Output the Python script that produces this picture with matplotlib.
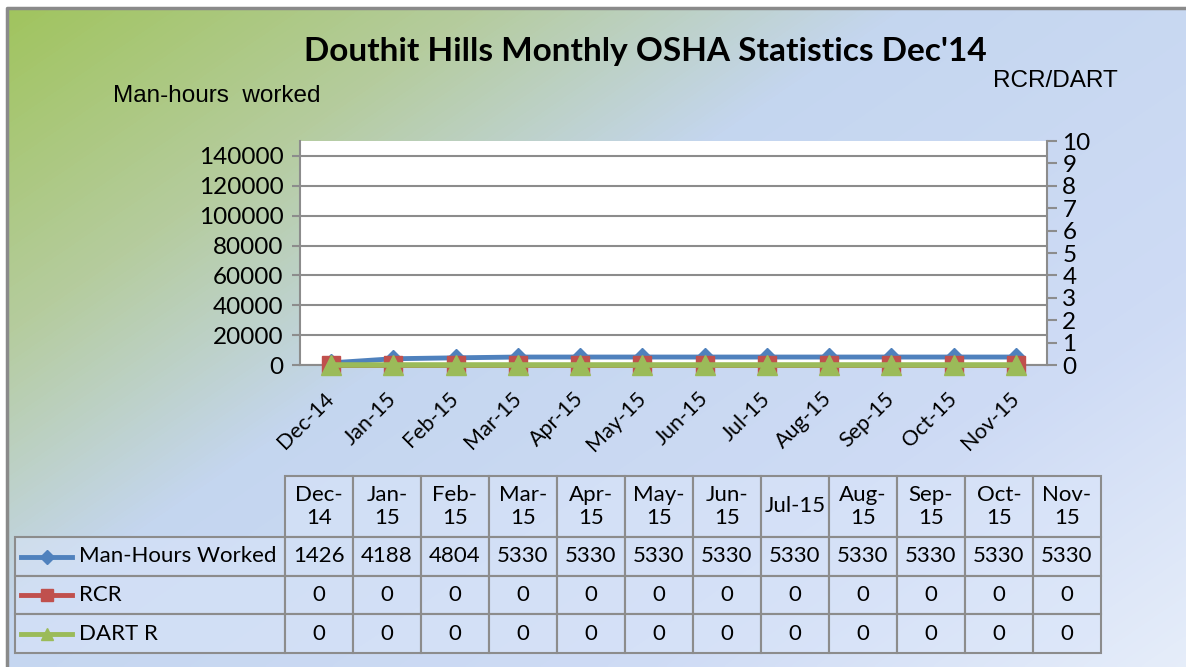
import matplotlib.pyplot as plt
import numpy as np
from matplotlib.patches import Rectangle
from matplotlib.lines import Line2D
from matplotlib.colors import LinearSegmentedColormap

# chart data
months = ["Dec-14", "Jan-15", "Feb-15", "Mar-15", "Apr-15", "May-15",
          "Jun-15", "Jul-15", "Aug-15", "Sep-15", "Oct-15", "Nov-15"]
header_labels = ["Dec-\n14", "Jan-\n15", "Feb-\n15", "Mar-\n15", "Apr-\n15", "May-\n15",
                 "Jun-\n15", "Jul-15", "Aug-\n15", "Sep-\n15", "Oct-\n15", "Nov-\n15"]
man_hours = [1426, 4188, 4804, 5330, 5330, 5330, 5330, 5330, 5330, 5330, 5330, 5330]
rcr = [0] * 12
dart = [0] * 12
series_names = ["Man-Hours Worked", "RCR", "DART R"]

left_ticks = np.arange(0, 140001, 20000)
right_ticks = np.arange(0, 11, 1)

BLUE = "#4F81BD"
RED = "#C0504D"
GREEN = "#9BBB59"
GRID = "#8C8C8C"
CAL = "Lato"
ARI = "Liberation Sans"

W, H = 1186, 667
fig = plt.figure(figsize=(W / 100, H / 100), dpi=100)
fig.patch.set_facecolor("white")

# gradient background in pixel coords
bg = fig.add_axes([0, 0, 1, 1], zorder=-10)
bg.set_xlim(0, W)
bg.set_ylim(H, 0)
bg.axis("off")
cmap = LinearSegmentedColormap.from_list("bg", [
    (0.0, (0.63, 0.77, 0.37)),
    (0.22, (0.71, 0.80, 0.62)),
    (0.42, (0.77, 0.84, 0.94)),
    (0.75, (0.81, 0.86, 0.96)),
    (1.0, (0.90, 0.93, 0.98)),
])
gx, gy = np.meshgrid(np.linspace(0, 1, 300), np.linspace(0, 1, 200))
bg.imshow((gx * 0.55 + gy * 0.45), cmap=cmap, extent=[7, W, H, 8], aspect="auto",
          interpolation="bilinear")
bg.plot([7, 7, W], [H, 8, 8], color="#8A8A8A", lw=2.5, solid_capstyle="butt")

# main plot
ax = fig.add_axes([300 / W, (H - 365) / H, 747 / W, 224 / H])
ax.set_facecolor("white")
x = np.arange(len(months))
ax.plot(x, man_hours, color=BLUE, lw=3.5, marker="D", ms=9, mec=BLUE, mfc=BLUE,
        clip_on=False, zorder=3)
ax.set_xlim(-0.5, len(months) - 0.5)
ax.set_ylim(0, 150000)
ax.set_yticks(left_ticks)
ax.set_yticklabels([str(v) for v in left_ticks], fontfamily=CAL, fontsize=17.5)
ax.set_xticks(x)
ax.set_xticklabels(months, rotation=45, ha="right", va="center", rotation_mode="anchor",
                   fontfamily=CAL, fontsize=15.5)
ax.tick_params(axis="x", length=0, pad=22)
ax.tick_params(axis="y", length=6, width=1.5, color=GRID, pad=6)
ax.grid(axis="y", color=GRID, lw=1.5)
ax.set_axisbelow(True)
for s in ["top", "right"]:
    ax.spines[s].set_visible(False)
for s in ["left", "bottom"]:
    ax.spines[s].set_color(GRID)
    ax.spines[s].set_linewidth(1.5)

ax2 = ax.twinx()
ax2.plot(x, rcr, color=RED, lw=3.5, marker="s", ms=12.5, mec=RED, mfc=RED,
         clip_on=False, zorder=4)
ax2.plot(x, dart, color=GREEN, lw=4, marker="^", ms=14, mec=GREEN, mfc=GREEN,
         clip_on=False, zorder=5)
ax2.set_ylim(0, 10)
ax2.set_yticks(right_ticks)
ax2.set_yticklabels([str(v) for v in right_ticks], fontfamily=CAL, fontsize=17.5)
ax2.tick_params(axis="y", length=7, width=1.5, color=GRID, pad=4)
for s in ["top", "left", "bottom"]:
    ax2.spines[s].set_visible(False)
ax2.spines["right"].set_color(GRID)
ax2.spines["right"].set_linewidth(1.5)

# titles
fig.text(645 / W, 1 - 52 / H, "Douthit Hills Monthly OSHA Statistics Dec'14",
         ha="center", va="center", fontfamily=CAL, fontweight="bold", fontsize=24)
fig.text(113 / W, 1 - 96 / H, "Man-hours  worked", ha="left", va="center",
         fontfamily=ARI, fontsize=17.5)
fig.text(1118 / W, 1 - 81 / H, "RCR/DART", ha="right", va="center",
         fontfamily=ARI, fontsize=17.5)

# data table drawn in pixel coords
tb = fig.add_axes([0, 0, 1, 1], zorder=5)
tb.set_xlim(0, W)
tb.set_ylim(H, 0)
tb.axis("off")
col_x0, col_w = 285, (1101 - 285) / 12
lab_x0 = 15
row_y = [476, 537, 576, 614, 653]
cell_fc = (0.86, 0.90, 0.98, 0.55)
ec = "#8C8C8C"
for j, lab in enumerate(header_labels):
    cx = col_x0 + j * col_w
    tb.add_patch(Rectangle((cx, row_y[0]), col_w, row_y[1] - row_y[0], fc=cell_fc,
                           ec=ec, lw=1.5))
    tb.text(cx + col_w / 2, (row_y[0] + row_y[1]) / 2, lab, ha="center", va="center",
            fontfamily=CAL, fontsize=16, linespacing=1.2)
rows = [man_hours, rcr, dart]
styles = [(BLUE, "D", 7), (RED, "s", 9), (GREEN, "^", 9)]
for i, (vals, name, (c, m, ms)) in enumerate(zip(rows, series_names, styles)):
    y0, y1 = row_y[i + 1], row_y[i + 2]
    yc = (y0 + y1) / 2
    tb.add_patch(Rectangle((lab_x0, y0), col_x0 - lab_x0, y1 - y0, fc=cell_fc, ec=ec, lw=1.5))
    tb.add_line(Line2D([21, 72], [yc, yc], color=c, lw=3.5))
    tb.plot([46.5], [yc], marker=m, ms=ms, color=c)
    tb.text(79, yc, name, ha="left", va="center", fontfamily=CAL, fontsize=16)
    for j, v in enumerate(vals):
        cx = col_x0 + j * col_w
        tb.add_patch(Rectangle((cx, y0), col_w, y1 - y0, fc=cell_fc, ec=ec, lw=1.5))
        tb.text(cx + col_w / 2, yc, str(v), ha="center", va="center",
                fontfamily=CAL, fontsize=16)

fig.savefig("out.png", dpi=100)
